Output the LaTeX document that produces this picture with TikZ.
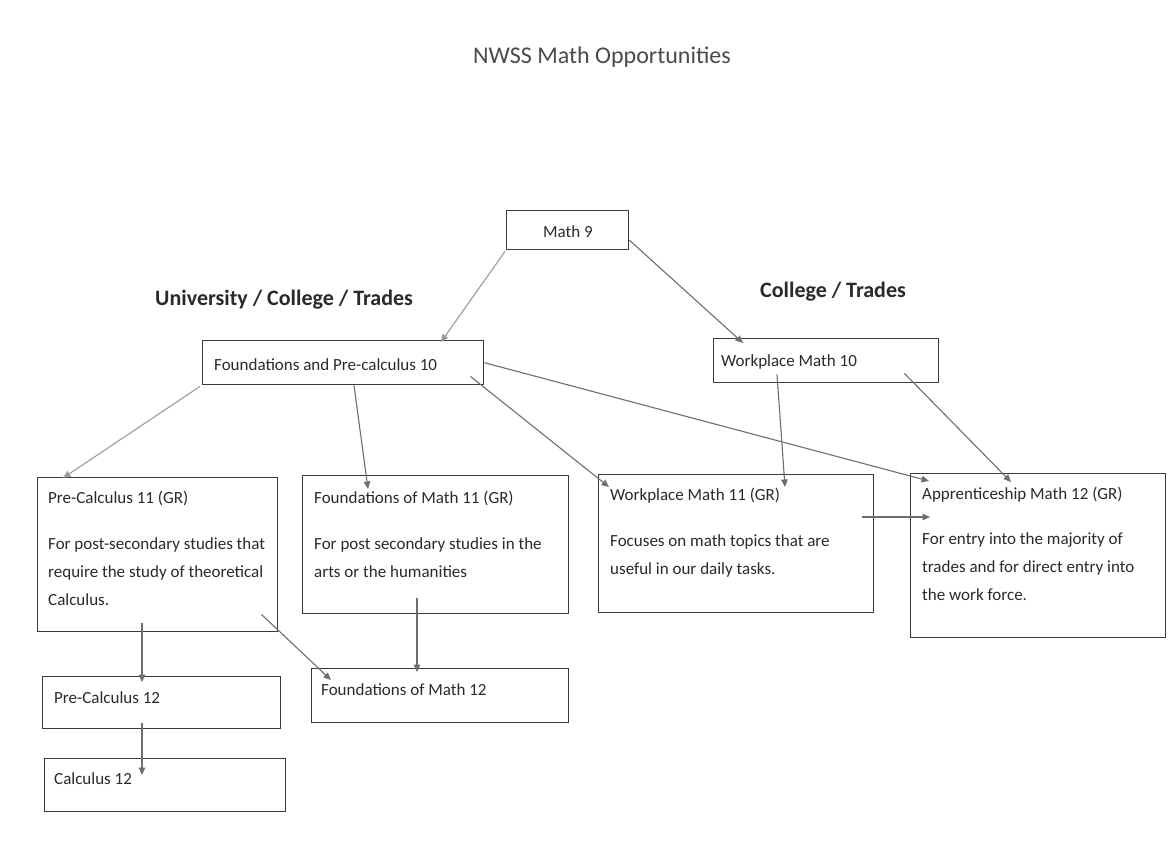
\documentclass[tikz,border=0pt]{standalone}
\usepackage{fontspec}
\setmainfont{Carlito}
\usetikzlibrary{arrows.meta,calc}
\definecolor{boxcol}{HTML}{3A3A3A}
\definecolor{textcol}{HTML}{2A2A2A}
\definecolor{linecol}{HTML}{6E6E6E}
\definecolor{lightline}{HTML}{9A9A9A}
\definecolor{titlecol}{HTML}{4A4A4A}
\begin{document}
\begin{tikzpicture}[x=1pt,y=-1pt,
  box/.style={draw=boxcol,line width=1.4pt,inner sep=0pt,anchor=north west},
  txt/.style={anchor=base west,inner sep=0pt,font=\fontsize{17}{28}\selectfont,text=textcol,align=left},
  head/.style={anchor=base west,inner sep=0pt,font=\fontsize{22}{26}\selectfont\bfseries,text=textcol},
  conn/.style={draw=linecol,line width=1.1pt,-{Triangle[length=7.5pt,width=6.5pt]}},
  lconn/.style={conn,draw=lightline}]
\useasboundingbox[fill=white] (0,0) rectangle (1173,841);

% title and headings
\node[inner sep=0pt,font=\fontsize{24}{28}\selectfont,text=titlecol] (title) at (602,57) {NWSS Math Opportunities};
\node[head] (uct) at (155,305) {University / College / Trades};
\node[head] (ct) at (760,297) {College / Trades};

% boxes
\node[box,minimum width=122pt,minimum height=39pt] (m9) at (506,210) {};
\node[box,minimum width=281pt,minimum height=44pt] (fpc10) at (202,340) {};
\node[box,minimum width=225pt,minimum height=44pt] (wm10) at (713,338) {};
\node[box,minimum width=240pt,minimum height=154pt] (pc11) at (37,477) {};
\node[box,minimum width=266pt,minimum height=138pt] (fm11) at (302,475) {};
\node[box,minimum width=275pt,minimum height=138pt] (wm11) at (598,474) {};
\node[box,minimum width=255pt,minimum height=164pt] (am12) at (910,473) {};
\node[box,minimum width=238pt,minimum height=52pt] (pc12) at (42,676) {};
\node[box,minimum width=257pt,minimum height=54pt] (fm12) at (311,668) {};
\node[box,minimum width=241pt,minimum height=53pt] (c12) at (44,758) {};

% texts (multi-line nodes are placed by the baseline of their last line)
\node[txt] (m9t) at (543,237) {Math 9};
\node[txt] (fpc10t) at (214,370) {Foundations and Pre-calculus 10};
\node[txt] (wm10t) at (721,366) {Workplace Math 10};
\node[txt] (pc11t) at (48,503) {Pre-Calculus 11 (GR)};
\node[txt] (pc11b) at (48,605) {For post-secondary studies that\\require the study of theoretical\\Calculus.};
\node[txt] (fm11t) at (314,503) {Foundations of Math 11 (GR)};
\node[txt] (fm11b) at (314,577) {For post secondary studies in the\\arts or the humanities};
\node[txt] (wm11t) at (610,500) {Workplace Math 11 (GR)};
\node[txt] (wm11b) at (610,574) {Focuses on math topics that are\\useful in our daily tasks.};
\node[txt] (am12t) at (922,499) {Apprenticeship Math 12 (GR)};
\node[txt] (am12b) at (922,600) {For entry into the majority of\\trades and for direct entry into\\the work force.};
\node[txt] (pc12t) at (54,703) {Pre-Calculus 12};
\node[txt] (fm12t) at (321,695) {Foundations of Math 12};
\node[txt] (c12t) at (54,784) {Calculus 12};

% connectors
\draw[lconn] ($(m9.south west)+(-1,1)$) -- ($(fpc10.north west)+(239,2)$);
\draw[conn] ($(m9.east)+(0,10)$) -- ($(wm10.north west)+(30,5)$);
\draw[lconn] ($(fpc10.south west)+(-2,1)$) -- ($(pc11.north west)+(26,1)$);
\draw[conn] ($(fpc10.south west)+(152,0)$) -- ($(fm11.north west)+(66,14)$);
\draw[conn] ($(fpc10.south east)+(-14,-9)$) -- ($(wm11.north west)+(11,13)$);
\draw[conn] (fpc10.east) -- ($(am12.north west)+(19,8)$);
\draw[conn] ($(wm10.south west)+(64,-9)$) -- ($(wm11.north west)+(187,13)$);
\draw[conn] ($(wm10.south east)+(-35,-10)$) -- ($(am12.north west)+(101,9)$);
\draw[conn] ($(wm11.north east)+(-12,43)$) -- ($(am12.north west)+(20,44)$);
\draw[conn] ($(pc11.south west)+(105,-9)$) -- ($(pc12.north west)+(100,6)$);
\draw[conn] ($(pc11.south east)+(-17,-18)$) -- ($(fm12.north west)+(20,12)$);
\draw[conn] ($(fm11.south west)+(115,-16)$) -- ($(fm12.north west)+(106,4)$);
\draw[conn] ($(pc12.south west)+(100,-6)$) -- ($(c12.north west)+(98,17)$);
\end{tikzpicture}
\end{document}
